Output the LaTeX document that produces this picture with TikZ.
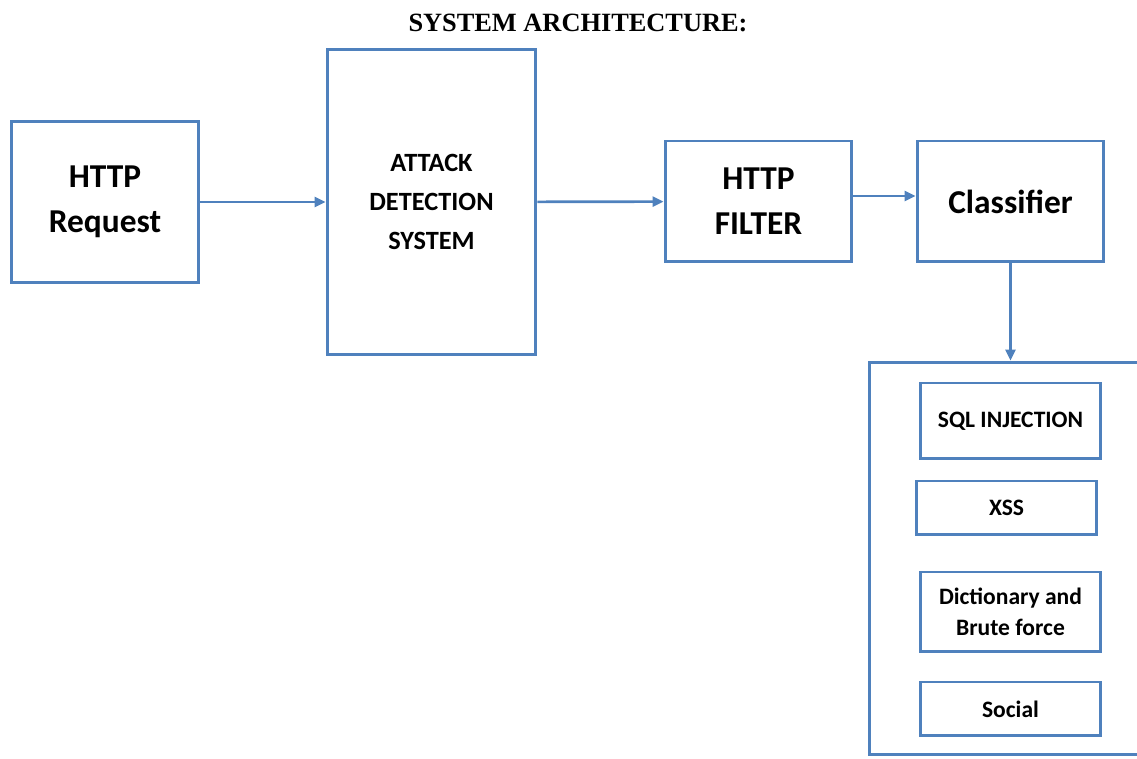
\documentclass[tikz,border=0pt]{standalone}
\usepackage{fontspec}
\setmainfont{Liberation Serif}
\newfontfamily\boxfont{Carlito}
\usetikzlibrary{arrows.meta}
\definecolor{boxblue}{RGB}{79,129,189}

\begin{document}
\begin{tikzpicture}[x=0.02cm, y=-0.02cm,
  blk/.style={draw=boxblue, line width=1.7pt, rectangle, inner sep=0pt, align=center, font=\boxfont\bfseries},
  big/.style={blk, font=\boxfont\bfseries\fontsize{19}{25.5}\selectfont},
  mid/.style={blk, font=\boxfont\bfseries\fontsize{15}{22}\selectfont},
  small/.style={blk, minimum width=3.62cm, font=\boxfont\bfseries\fontsize{13.4}{18}\selectfont},
  arr/.style={draw=boxblue, line width=1.5pt, -{Triangle[length=0.22cm, width=0.2cm]}}]
\useasboundingbox (0,0) rectangle (1137,759);
\node (title) at (578,23) {\bfseries\fontsize{15}{18}\selectfont SYSTEM ARCHITECTURE:};
\node (req)[big, minimum width=3.76cm, minimum height=3.24cm] at (105,202) {HTTP\\Request};
\node (ads)[mid, minimum width=4.18cm, minimum height=6.12cm] at (431.5,202) {ATTACK\\DETECTION\\SYSTEM};
\node (filter)[big, minimum width=3.74cm, minimum height=2.42cm] at (758.5,201.5) {HTTP\\FILTER};
\node (clf)[big, minimum width=3.74cm, minimum height=2.42cm] at (1010.5,201.5) {Classifier};
\node (group)[blk, minimum width=5.82cm, minimum height=7.86cm] at (1014.5,558.5) {};
\node (sql)[small, minimum height=1.52cm] at (1010.5,421) {SQL INJECTION};
\node (xss)[small, minimum height=1.08cm] at (1006.5,508) {XSS};
\node (dict)[small, minimum height=1.6cm] at (1010.5,612) {Dictionary and\\Brute force};
\node (social)[small, minimum height=1.08cm] at (1010.5,709) {Social};
\draw[arr] (req) -- (ads);
\draw[arr] (ads) -- (filter);
\draw[arr] ([yshift=0.11cm]filter.east) -- ([yshift=0.11cm]clf.west);
\draw[arr] (clf.south) -- (clf.south |- group.north);
\end{tikzpicture}
\end{document}
